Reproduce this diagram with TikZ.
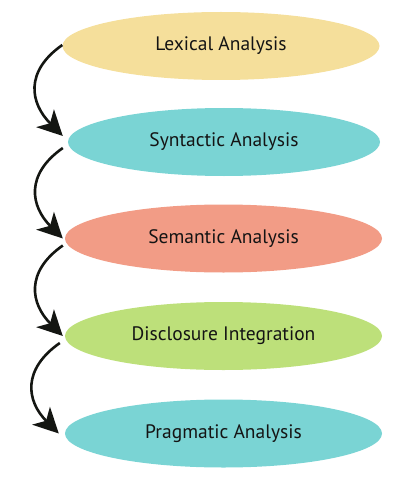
\documentclass[tikz,border=0pt]{standalone}
\usepackage{fontspec}
\setmainfont{PT Sans}
\usetikzlibrary{shapes.geometric,arrows.meta,calc}
\definecolor{lexc}{RGB}{245,223,155}
\definecolor{cyanc}{RGB}{122,212,212}
\definecolor{semc}{RGB}{242,156,134}
\definecolor{disc}{RGB}{189,224,122}
\definecolor{arrc}{RGB}{20,22,18}
\begin{document}
\begin{tikzpicture}[x=1pt,y=1pt,
  stage/.style={ellipse,minimum width=317pt,minimum height=68pt,inner sep=0pt,
    font=\fontsize{19.5}{22}\selectfont,text=black!92},
  flow/.style={draw=arrc,line width=2.6pt,looseness=1.3,
    -{Stealth[length=25pt,width=25pt,inset=7pt]}}]
\useasboundingbox (0,0) rectangle (400,-500);
\node[stage,fill=lexc] (lex) at (221,-46) {Lexical Analysis};
\node[stage,fill=cyanc,minimum width=312pt] (syn) at (224,-142) {Syntactic Analysis};
\node[stage,fill=semc] (sem) at (223.5,-238.5) {Semantic Analysis};
\node[stage,fill=disc] (dis) at (223.5,-336) {Disclosure Integration};
\node[stage,fill=cyanc] (pra) at (223.5,-433.5) {Pragmatic Analysis};
\draw[flow] ($(lex.west)+(0,1)$) to[out=215,in=135] ($(syn.west)+(-5,6)$);
\draw[flow] ($(syn.west)+(-5,-6)$) to[out=215,in=135] ($(sem.west)+(-2,0)$);
\draw[flow] ($(sem.west)+(-2,-7)$) to[out=215,in=135] ($(dis.west)+(-2,0)$);
\draw[flow] ($(dis.west)+(-5,-7)$) to[out=215,in=135] ($(pra.west)+(-6,0)$);
\end{tikzpicture}
\end{document}
